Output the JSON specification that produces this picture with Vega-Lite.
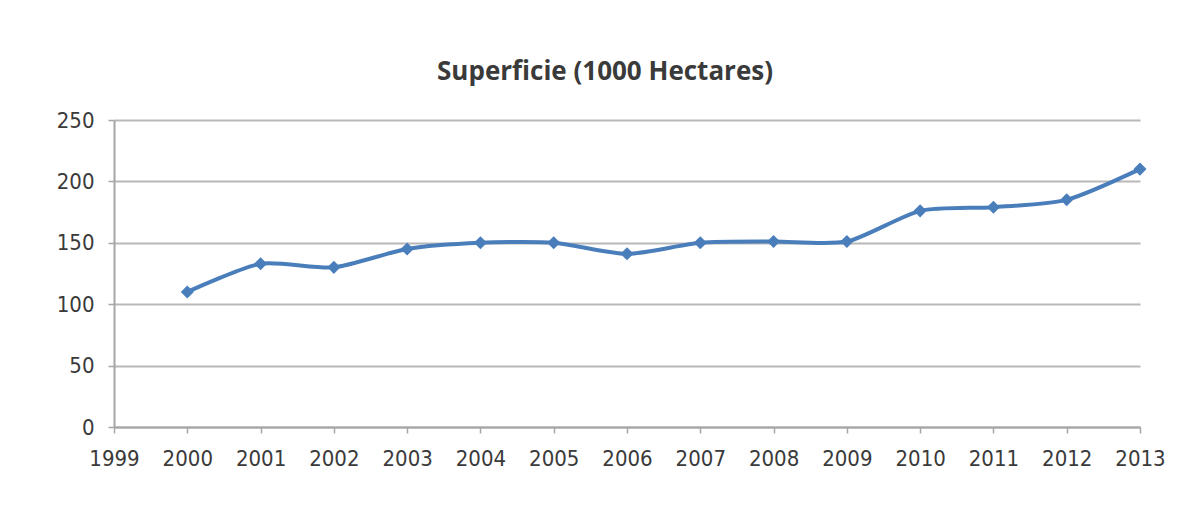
{
  "$schema": "https://vega.github.io/schema/vega-lite/v6.json",
  "width": 1026,
  "height": 307,
  "autosize": {"type": "none"},
  "padding": {"left": 114, "top": 120, "right": 52, "bottom": 97},
  "background": "white",
  "title": {
    "text": "Superficie (1000 Hectares)",
    "font": "Open Sans",
    "fontSize": 26,
    "fontWeight": "bold",
    "color": "#3a3a3a",
    "anchor": "middle",
    "dx": -22,
    "offset": 24
  },
  "config": {
    "view": {"stroke": null},
    "axis": {
      "labelFont": "DejaVu Sans Condensed",
      "labelFontSize": 22,
      "labelColor": "#3a3a3a",
      "domainColor": "#a6a6a6",
      "domainWidth": 2,
      "tickColor": "#a6a6a6",
      "tickWidth": 1.5,
      "tickSize": 6,
      "gridColor": "#b8b8b8",
      "gridWidth": 2,
      "title": null
    }
  },
  "data": {
    "values": [
      {"year": 2000, "superficie": 110},
      {"year": 2001, "superficie": 133},
      {"year": 2002, "superficie": 130},
      {"year": 2003, "superficie": 145},
      {"year": 2004, "superficie": 150},
      {"year": 2005, "superficie": 150},
      {"year": 2006, "superficie": 141},
      {"year": 2007, "superficie": 150},
      {"year": 2008, "superficie": 151},
      {"year": 2009, "superficie": 151},
      {"year": 2010, "superficie": 176},
      {"year": 2011, "superficie": 179},
      {"year": 2012, "superficie": 185},
      {"year": 2013, "superficie": 210}
    ]
  },
  "encoding": {
    "x": {
      "field": "year",
      "type": "quantitative",
      "scale": {"domain": [1999, 2013], "nice": false, "zero": false},
      "axis": {
        "values": [1999, 2000, 2001, 2002, 2003, 2004, 2005, 2006, 2007, 2008, 2009, 2010, 2011, 2012, 2013],
        "format": "d",
        "grid": false,
        "labelPadding": 15,
        "labelFlush": false,
        "labelOverlap": false
      }
    },
    "y": {
      "field": "superficie",
      "type": "quantitative",
      "scale": {"domain": [0, 250], "nice": false},
      "axis": {
        "values": [0, 50, 100, 150, 200, 250],
        "grid": true,
        "labelPadding": 14
      }
    }
  },
  "layer": [
    {
      "mark": {"type": "line", "interpolate": "cardinal", "tension": 0.3, "color": "#4a7ebb", "strokeWidth": 4}
    },
    {
      "mark": {"type": "point", "shape": "diamond", "filled": true, "color": "#4a7ebb", "size": 170, "opacity": 1}
    }
  ]
}
